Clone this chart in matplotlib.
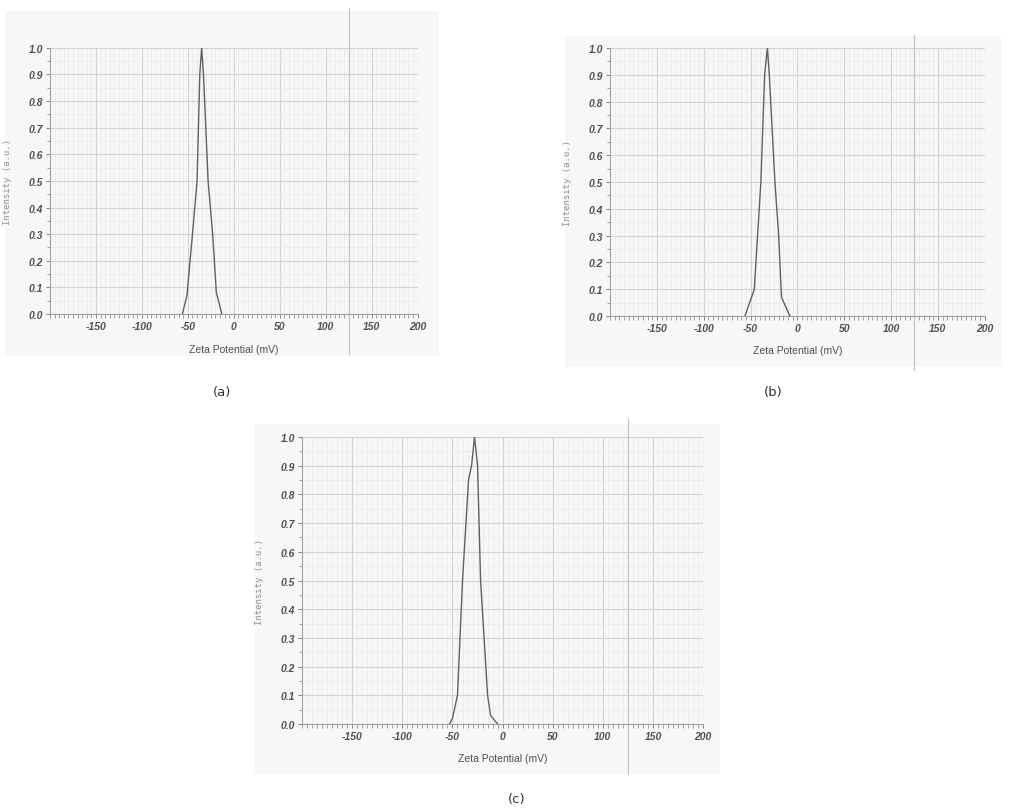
import matplotlib
matplotlib.use("Agg")
import matplotlib.pyplot as plt
from matplotlib.patches import Rectangle
from matplotlib.ticker import MultipleLocator, FormatStrFormatter

plt.rcParams["axes.unicode_minus"] = False

# zeta potential distributions (mV, normalised intensity)
zeta_a = [-56, -51, -45, -40, -37, -35, -33, -28, -23, -19, -13]
inten_a = [0.0, 0.07, 0.3, 0.5, 0.9, 1.0, 0.9, 0.5, 0.3, 0.08, 0.0]

zeta_b = [-56, -49, -46, -39, -35, -32, -30, -24, -20, -17, -8]
inten_b = [0.0, 0.07, 0.1, 0.5, 0.9, 1.0, 0.9, 0.5, 0.3, 0.07, 0.0]

zeta_c = [-53, -50, -45, -40, -34, -31, -28, -25, -22, -15, -12, -5]
inten_c = [0.0, 0.02, 0.1, 0.5, 0.85, 0.9, 1.0, 0.9, 0.5, 0.1, 0.03, 0.0]

x_ticks = [-150, -100, -50, 0, 50, 100, 150, 200]
panel_labels = ["(a)", "(b)", "(c)"]

GREY = "#606060"


def draw_panel(fig, rect, zeta, inten, marker_span):
    ax = fig.add_axes(rect, zorder=2)
    ax.set_facecolor("none")
    ax.plot(zeta, inten, color=GREY, lw=1.0, zorder=3)
    ax.set_xlim(-200, 200)
    ax.set_ylim(0, 1.0)

    ax.set_xticks(x_ticks)
    ax.xaxis.set_minor_locator(MultipleLocator(5))
    ax.yaxis.set_major_locator(MultipleLocator(0.1))
    ax.yaxis.set_minor_locator(MultipleLocator(0.05))
    ax.yaxis.set_major_formatter(FormatStrFormatter("%.1f"))

    ax.grid(which="major", color="#d2d2d2", lw=0.8)
    ax.grid(which="minor", color="#ebebeb", lw=0.6)
    ax.set_axisbelow(True)

    for side in ["top", "right"]:
        ax.spines[side].set_visible(False)
    for side in ["left", "bottom"]:
        ax.spines[side].set_color("#a0a0a0")
        ax.spines[side].set_linewidth(0.8)

    ax.tick_params(axis="both", which="major", length=3, width=0.7, color="#808080",
                   labelsize=7.5, labelcolor="#505050", pad=2)
    ax.tick_params(axis="x", which="minor", length=3, width=0.6, color="#909090")
    ax.tick_params(axis="y", which="minor", length=2, width=0.6, color="#909090")
    for lab in ax.get_xticklabels() + ax.get_yticklabels():
        lab.set_fontstyle("italic")
        lab.set_fontweight("bold")
        lab.set_family("Liberation Sans")

    ax.set_xlabel("Zeta Potential (mV)", fontsize=7.5, color="#505050", labelpad=9,
                  family="Liberation Sans")
    ax.set_ylabel("Intensity (a.u.)", fontsize=6.5, color="#909090",
                  family="DejaVu Sans Mono", labelpad=12)

    # faint vertical line left on the scanned plots near 125 mV
    ax.plot([125, 125], marker_span, color="#c4c4c4", lw=0.9, clip_on=False, zorder=1)
    return ax


fig = plt.figure(figsize=(10.21, 8.12), dpi=100)

# light grey paper behind each scanned plot
bg = fig.add_axes([0, 0, 1, 1], zorder=0)
bg.set_axis_off()
for x0, y0, w, h in [(0.005, 0.56, 0.425, 0.425), (0.553, 0.547, 0.427, 0.407),
                     (0.25, 0.045, 0.455, 0.432)]:
    bg.add_patch(Rectangle((x0, y0), w, h, transform=bg.transAxes,
                           facecolor="#f6f7f8", edgecolor="none"))

draw_panel(fig, [0.049, 0.612, 0.360, 0.328], zeta_a, inten_a, [-0.15, 1.147])
draw_panel(fig, [0.5975, 0.6096, 0.367, 0.330], zeta_b, inten_b, [-0.2, 1.05])
draw_panel(fig, [0.2958, 0.1071, 0.393, 0.3535], zeta_c, inten_c, [-0.174, 1.063])

fig.text(222 / 1021, 1 - 393 / 812, panel_labels[0], ha="center", va="center", fontsize=9.5, color="#333333")
fig.text(773 / 1021, 1 - 393 / 812, panel_labels[1], ha="center", va="center", fontsize=9.5, color="#333333")
fig.text(517 / 1021, 1 - 800 / 812, panel_labels[2], ha="center", va="center", fontsize=9.5, color="#333333")

fig.savefig("out.png", dpi=100)
